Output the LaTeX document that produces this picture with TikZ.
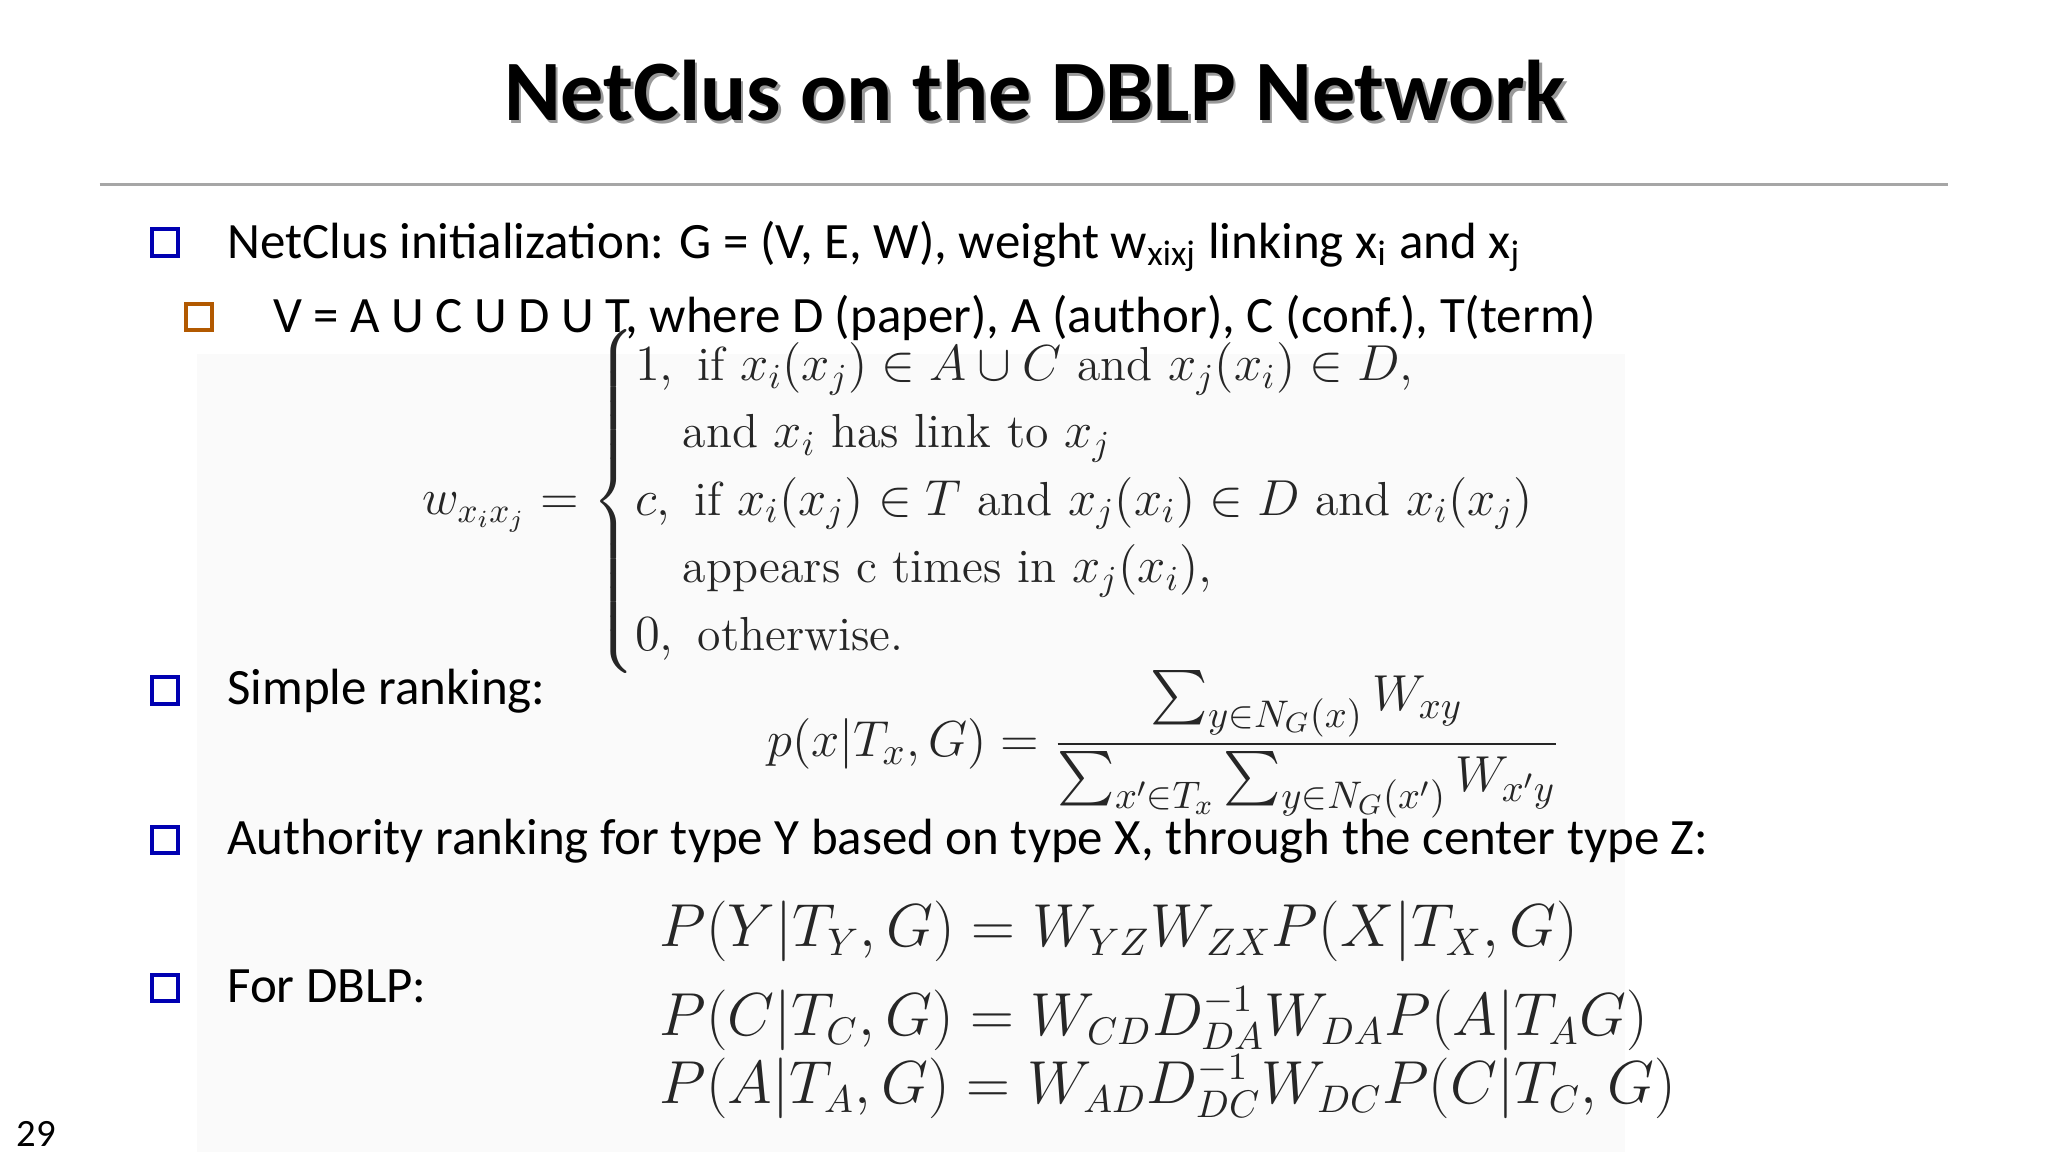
\documentclass[tikz,border=0pt]{standalone}
\usepackage{amsmath,amssymb}
\usepackage{fontspec}
\setmainfont{Carlito}
\newfontfamily\lmr{Latin Modern Roman}
\newcommand{\tx}[1]{\text{\lmr #1}}
\begin{document}
\begin{tikzpicture}[x=0.0131cm,y=-0.0131cm,
  txt/.style={anchor=base west,inner sep=0pt,font=\fontsize{14.5}{17}\selectfont},
  bul/.style={draw=#1,line width=1.1pt,minimum size=7.5pt,inner sep=0pt,fill=white}]
\useasboundingbox (0,0) rectangle (1563,879);
\fill[black!2] (150,270) rectangle (1240,879);
\node[anchor=base,inner sep=0pt,font=\fontsize{24.5}{28}\selectfont\bfseries,black!40] at (792,94) {NetClus on the DBLP Network};
\node[anchor=base,inner sep=0pt,font=\fontsize{24.5}{28}\selectfont\bfseries] (title) at (790,92) {NetClus on the DBLP Network};
\coordinate (l1) at (76,141); \coordinate (l2) at (1487,141);
\draw[black!35,line width=0.8pt] (l1) -- (l2);
\foreach \n/\y/\c/\xx in {b1/185/blue!70!black/126,b2/242/orange!70!black/152,b3/527/blue!70!black/126,b4/641/blue!70!black/126,b5/754/blue!70!black/126}{
  \fill[black!60] (\xx-5,\y-5) rectangle (\xx+10,\y+10);
  \node[bul=\c] (\n) at (\xx,\y) {};
}
\node[txt] (t1) at (173,197) {NetClus initialization: G = (V, E, W), weight w\textsubscript{xixj} linking x\textsubscript{i} and x\textsubscript{j}};
\node[txt] (t2) at (208,254) {V = A U C U D U T, where D (paper), A (author), C (conf.), T(term)};
\node[txt] (t3) at (173,538) {Simple ranking:};
\node[txt] (t4) at (173,652) {Authority ranking for type Y based on type X, through the center type Z:};
\node[txt] (t5) at (173,765) {For DBLP:};
\node[anchor=base west,inner sep=0pt,font=\fontsize{11}{13}\selectfont] (pg) at (12,875) {29};
\node[inner sep=0pt,font=\fontsize{13.6}{16}\selectfont,black!85] (w) at (766,383) {\renewcommand{\arraystretch}{0.82}$\displaystyle w_{x_ix_j}=\begin{cases}1,\tx{ if } x_i(x_j)\in A\cup C \tx{ and } x_j(x_i)\in D,\\ \quad\tx{and } x_i \tx{ has link to } x_j\\ c,\tx{ if } x_i(x_j)\in T \tx{ and } x_j(x_i)\in D \tx{ and } x_i(x_j)\\ \quad\tx{appears c times in } x_j(x_i),\\ 0,\tx{ otherwise.}\end{cases}$};
\node[inner sep=0pt,font=\fontsize{15.5}{18}\selectfont,black!85] (p) at (888,568) {$\displaystyle p(x|T_x,G)=\frac{\sum_{y\in N_G(x)}W_{xy}}{\sum_{x'\in T_x}\sum_{y\in N_G(x')}W_{x'y}}$};
\node[anchor=base west,inner sep=0pt,font=\fontsize{16.3}{19}\selectfont,black!85] (e1) at (503,722) {$P(Y|T_Y,G)=W_{YZ}W_{ZX}P(X|T_X,G)$};
\node[anchor=base west,inner sep=0pt,font=\fontsize{16.3}{19}\selectfont,black!85] (e2) at (503,790) {$P(C|T_C,G)=W_{CD}D_{DA}^{-1}W_{DA}P(A|T_AG)$};
\node[anchor=base west,inner sep=0pt,font=\fontsize{16.3}{19}\selectfont,black!85] (e3) at (503,842) {$P(A|T_A,G)=W_{AD}D_{DC}^{-1}W_{DC}P(C|T_C,G)$};
\end{tikzpicture}
\end{document}
